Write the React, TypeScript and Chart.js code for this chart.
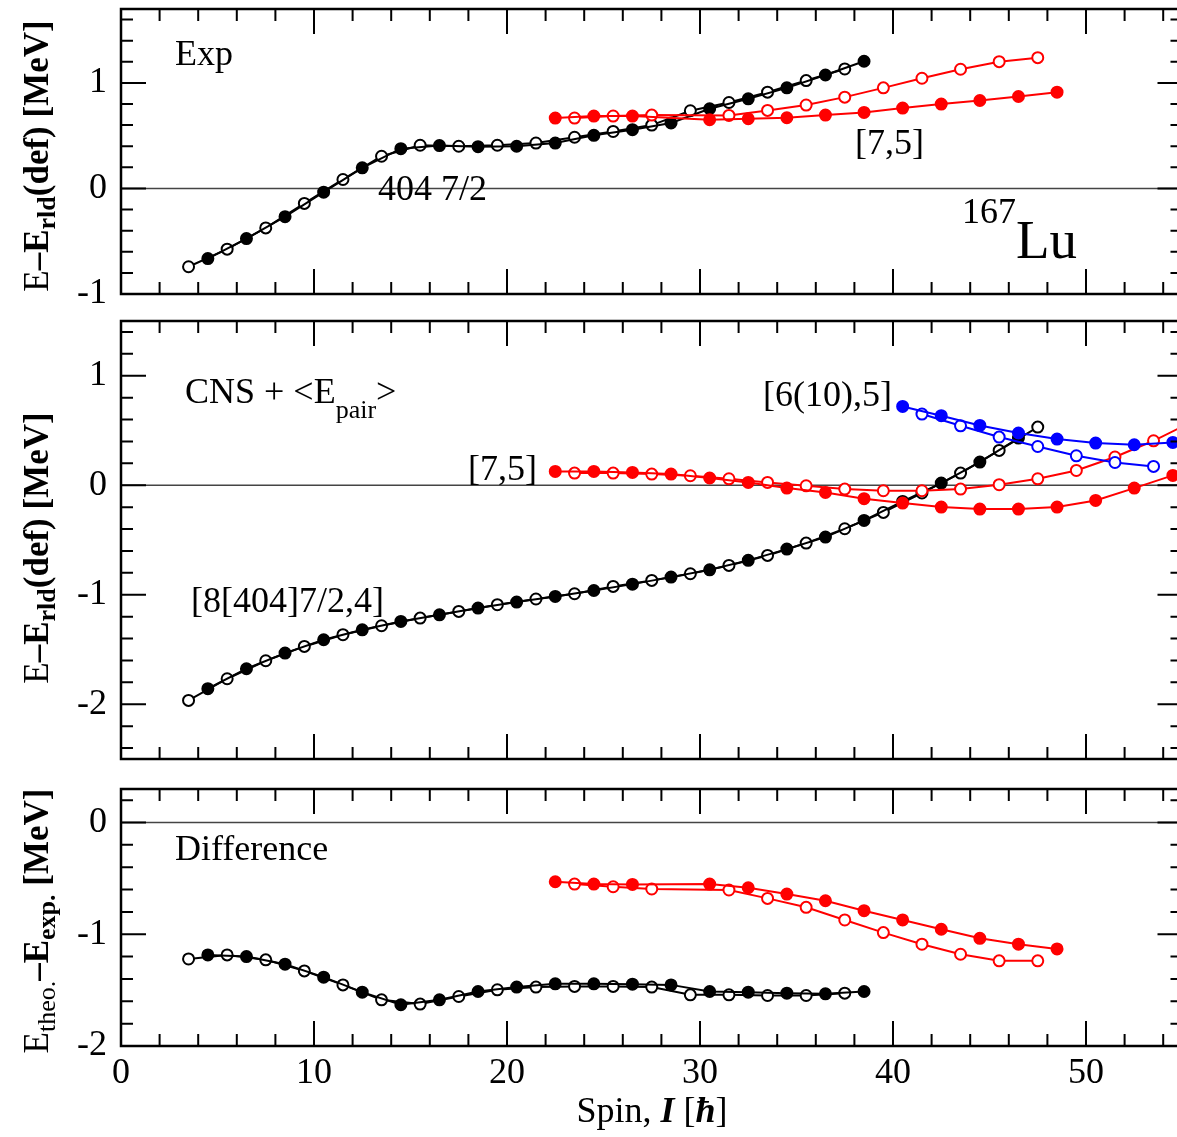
import React, { useEffect, useRef } from 'react';
import { Chart, registerables } from 'chart.js';

Chart.register(...registerables);

const FONT = '"Liberation Serif", "Times New Roman", Times, serif';

// ---------------- Panel 1: Exp ----------------
const expBlackOpenSpin = [3.5, 5.5, 7.5, 9.5, 11.5, 13.5, 15.5, 17.5, 19.5, 21.5, 23.5, 25.5, 27.5, 29.5, 31.5, 33.5, 35.5, 37.5];
const expBlackOpenE = [-0.742, -0.575, -0.374, -0.142, 0.085, 0.305, 0.409, 0.4, 0.409, 0.43, 0.485, 0.54, 0.6, 0.736, 0.814, 0.912, 1.022, 1.132];
const expBlackFilledSpin = [4.5, 6.5, 8.5, 10.5, 12.5, 14.5, 16.5, 18.5, 20.5, 22.5, 24.5, 26.5, 28.5, 30.5, 32.5, 34.5, 36.5, 38.5];
const expBlackFilledE = [-0.664, -0.475, -0.267, -0.035, 0.195, 0.377, 0.406, 0.396, 0.4, 0.43, 0.503, 0.557, 0.62, 0.755, 0.849, 0.953, 1.075, 1.205];
const expRedFilledSpin = [22.5, 24.5, 26.5, 30.5, 32.5, 34.5, 36.5, 38.5, 40.5, 42.5, 44.5, 46.5, 48.5];
const expRedFilledE = [0.667, 0.686, 0.686, 0.651, 0.66, 0.67, 0.695, 0.72, 0.761, 0.799, 0.833, 0.871, 0.912];
const expRedOpenSpin = [23.5, 25.5, 27.5, 31.5, 33.5, 35.5, 37.5, 39.5, 41.5, 43.5, 45.5, 47.5];
const expRedOpenE = [0.667, 0.686, 0.695, 0.692, 0.739, 0.79, 0.865, 0.953, 1.044, 1.129, 1.201, 1.239];

// ---------------- Panel 2: CNS + <Epair> ----------------
const cnsBlackOpenSpin = [3.5, 5.5, 7.5, 9.5, 11.5, 13.5, 15.5, 17.5, 19.5, 21.5, 23.5, 25.5, 27.5, 29.5, 31.5, 33.5, 35.5, 37.5, 39.5, 41.5, 43.5, 45.5, 47.5];
const cnsBlackOpenE = [-1.965, -1.767, -1.603, -1.472, -1.365, -1.283, -1.213, -1.152, -1.091, -1.039, -0.991, -0.924, -0.869, -0.808, -0.732, -0.641, -0.528, -0.397, -0.248, -0.071, 0.111, 0.318, 0.531];
const cnsBlackFilledSpin = [4.5, 6.5, 8.5, 10.5, 12.5, 14.5, 16.5, 18.5, 20.5, 22.5, 24.5, 26.5, 28.5, 30.5, 32.5, 34.5, 36.5, 38.5, 40.5, 42.5, 44.5, 46.5];
const cnsBlackFilledE = [-1.858, -1.676, -1.533, -1.411, -1.32, -1.244, -1.183, -1.122, -1.067, -1.015, -0.961, -0.903, -0.839, -0.772, -0.686, -0.583, -0.473, -0.321, -0.148, 0.02, 0.212, 0.431];
const cnsRedFilledSpin = [22.5, 24.5, 26.5, 28.5, 30.5, 32.5, 34.5, 36.5, 38.5, 40.5, 42.5, 44.5, 46.5, 48.5, 50.5, 52.5, 54.5];
const cnsRedFilledE = [0.126, 0.126, 0.117, 0.102, 0.066, 0.026, -0.026, -0.066, -0.123, -0.163, -0.199, -0.218, -0.218, -0.199, -0.139, -0.026, 0.09];
const cnsRedOpenSpin = [23.5, 25.5, 27.5, 29.5, 31.5, 33.5, 35.5, 37.5, 39.5, 41.5, 43.5, 45.5, 47.5, 49.5, 51.5, 53.5, 55.5];
const cnsRedOpenE = [0.111, 0.111, 0.102, 0.087, 0.059, 0.026, -0.005, -0.035, -0.05, -0.05, -0.035, 0.005, 0.059, 0.135, 0.258, 0.406, 0.58];
const cnsBlueFilledSpin = [40.5, 42.5, 44.5, 46.5, 48.5, 50.5, 52.5, 54.5];
const cnsBlueFilledE = [0.72, 0.635, 0.546, 0.477, 0.422, 0.385, 0.37, 0.391];
const cnsBlueOpenSpin = [41.5, 43.5, 45.5, 47.5, 49.5, 51.5, 53.5];
const cnsBlueOpenE = [0.65, 0.543, 0.44, 0.354, 0.269, 0.208, 0.172];

// ---------------- Panel 3: Difference ----------------
const diffBlackOpenSpin = [3.5, 5.5, 7.5, 9.5, 11.5, 13.5, 15.5, 17.5, 19.5, 21.5, 23.5, 25.5, 27.5, 29.5, 31.5, 33.5, 35.5, 37.5];
const diffBlackOpenE = [-1.221, -1.185, -1.229, -1.328, -1.453, -1.587, -1.625, -1.557, -1.497, -1.473, -1.467, -1.467, -1.473, -1.542, -1.542, -1.548, -1.548, -1.527];
const diffBlackFilledSpin = [4.5, 6.5, 8.5, 10.5, 12.5, 14.5, 16.5, 18.5, 20.5, 22.5, 24.5, 26.5, 28.5, 30.5, 32.5, 34.5, 36.5, 38.5];
const diffBlackFilledE = [-1.185, -1.2, -1.268, -1.384, -1.518, -1.631, -1.587, -1.512, -1.473, -1.444, -1.444, -1.447, -1.453, -1.512, -1.518, -1.527, -1.533, -1.512];
const diffRedFilledSpin = [22.5, 24.5, 26.5, 30.5, 32.5, 34.5, 36.5, 38.5, 40.5, 42.5, 44.5, 46.5, 48.5];
const diffRedFilledE = [-0.53, -0.551, -0.554, -0.551, -0.584, -0.64, -0.7, -0.789, -0.872, -0.955, -1.036, -1.089, -1.131];
const diffRedOpenSpin = [23.5, 25.5, 27.5, 31.5, 33.5, 35.5, 37.5, 39.5, 41.5, 43.5, 45.5, 47.5];
const diffRedOpenE = [-0.551, -0.575, -0.595, -0.604, -0.679, -0.759, -0.872, -0.985, -1.089, -1.179, -1.238, -1.238];

// ---------------- axes ----------------
const X_MIN = 0;
const X_MAX = 55;
const X_TICK_LABELS = [0, 10, 20, 30, 40, 50];
const Y1_TICK_LABELS = [-1, 0, 1];
const Y2_TICK_LABELS = [-2, -1, 0, 1];
const Y3_TICK_LABELS = [-2, -1, 0];

// ---------------- layout ----------------
const OFF = 60;
const CW = 1190;
const CH = 1137 + 2 * OFF;
const PLOT_LEFT = 121;
const PLOT_RIGHT = 1185;
const XAXIS_H = 91;

const BLACK = '#000000';
const RED = '#ff0000';
const BLUE = '#0000ff';

const f = (size: number, w = '') => `${w} ${size}px ${FONT}`.trim();

type Part = { t: string; font: string; dy?: number };
type Note = { parts: Part[]; x: number; y: number; align?: 'left' | 'center' };

function richWidth(ctx: CanvasRenderingContext2D, parts: Part[]) {
  let w = 0;
  for (const p of parts) {
    ctx.font = p.font;
    w += ctx.measureText(p.t).width;
  }
  return w;
}

function drawRich(ctx: CanvasRenderingContext2D, parts: Part[], x: number, y: number, align: 'left' | 'center' = 'left') {
  let cx = align === 'center' ? x - richWidth(ctx, parts) / 2 : x;
  ctx.textAlign = 'left';
  ctx.textBaseline = 'alphabetic';
  ctx.fillStyle = '#000';
  for (const p of parts) {
    ctx.font = p.font;
    ctx.fillText(p.t, cx, y + (p.dy || 0));
    cx += ctx.measureText(p.t).width;
  }
}

function pts(sp: number[], v: number[]) {
  return sp.map((s, i) => ({ x: s, y: v[i] }));
}

function series(spins: number[], vals: number[], color: string, filled: boolean, order: number) {
  return {
    data: pts(spins, vals),
    borderColor: color,
    backgroundColor: color,
    borderWidth: 2,
    pointRadius: 5.5,
    pointHoverRadius: 5.5,
    pointBorderWidth: 2,
    pointBorderColor: color,
    pointBackgroundColor: filled ? color : '#ffffff',
    fill: false,
    tension: 0,
    order,
  };
}

type PanelDef = {
  top: number;
  bottom: number;
  yMin: number;
  yMax: number;
  yLabels: number[];
  showX: boolean;
  datasets: any[];
  title: Part[];
  titleCenter: number;
  notes: Note[];
};

const yTitleRld: Part[] = [
  { t: 'E', font: f(35) },
  { t: '\u2013E', font: f(35, 'bold') },
  { t: 'rld', font: f(26, 'bold'), dy: 7 },
  { t: '(def) [MeV]', font: f(35, 'bold') },
];

const yTitleDiff: Part[] = [
  { t: 'E', font: f(35) },
  { t: 'theo.', font: f(26), dy: 7 },
  { t: '\u2013E', font: f(35, 'bold') },
  { t: 'exp.', font: f(26, 'bold'), dy: 7 },
  { t: ' [MeV]', font: f(35, 'bold') },
];

const PANELS: PanelDef[] = [
  {
    top: 9,
    bottom: 294,
    yMin: -1,
    yMax: 1.7,
    yLabels: Y1_TICK_LABELS,
    showX: false,
    datasets: [
      series(expRedFilledSpin, expRedFilledE, RED, true, 1),
      series(expRedOpenSpin, expRedOpenE, RED, false, 1),
      series(expBlackFilledSpin, expBlackFilledE, BLACK, true, 2),
      series(expBlackOpenSpin, expBlackOpenE, BLACK, false, 2),
    ],
    title: yTitleRld,
    titleCenter: 156,
    notes: [
      { parts: [{ t: 'Exp', font: f(36) }], x: 175, y: 65 },
      { parts: [{ t: '404 7/2', font: f(36) }], x: 378, y: 200 },
      { parts: [{ t: '[7,5]', font: f(36) }], x: 855, y: 154 },
      { parts: [{ t: '167', font: f(36) }, { t: 'Lu', font: f(55), dy: 35 }], x: 962, y: 223 },
    ],
  },
  {
    top: 321,
    bottom: 759,
    yMin: -2.5,
    yMax: 1.5,
    yLabels: Y2_TICK_LABELS,
    showX: false,
    datasets: [
      series(cnsBlueFilledSpin, cnsBlueFilledE, BLUE, true, 0),
      series(cnsBlueOpenSpin, cnsBlueOpenE, BLUE, false, 0),
      series(cnsRedFilledSpin, cnsRedFilledE, RED, true, 1),
      series(cnsRedOpenSpin, cnsRedOpenE, RED, false, 1),
      series(cnsBlackFilledSpin, cnsBlackFilledE, BLACK, true, 2),
      series(cnsBlackOpenSpin, cnsBlackOpenE, BLACK, false, 2),
    ],
    title: yTitleRld,
    titleCenter: 548,
    notes: [
      {
        parts: [
          { t: 'CNS + <E', font: f(36) },
          { t: 'pair', font: f(26), dy: 15 },
          { t: '>', font: f(36) },
        ],
        x: 185,
        y: 403,
      },
      { parts: [{ t: '[7,5]', font: f(36) }], x: 468, y: 480 },
      { parts: [{ t: '[6(10),5]', font: f(36) }], x: 763, y: 406 },
      { parts: [{ t: '[8[404]7/2,4]', font: f(36) }], x: 191, y: 612 },
    ],
  },
  {
    top: 789,
    bottom: 1046,
    yMin: -2,
    yMax: 0.3,
    yLabels: Y3_TICK_LABELS,
    showX: true,
    datasets: [
      series(diffRedFilledSpin, diffRedFilledE, RED, true, 1),
      series(diffRedOpenSpin, diffRedOpenE, RED, false, 1),
      series(diffBlackFilledSpin, diffBlackFilledE, BLACK, true, 2),
      series(diffBlackOpenSpin, diffBlackOpenE, BLACK, false, 2),
    ],
    title: yTitleDiff,
    titleCenter: 921,
    notes: [
      { parts: [{ t: 'Difference', font: f(36) }], x: 175, y: 860 },
      {
        parts: [
          { t: 'Spin, ', font: f(36) },
          { t: 'I', font: f(36, 'italic bold') },
          { t: ' [', font: f(36) },
          { t: '\u0127', font: f(36, 'italic bold') },
          { t: ']', font: f(36) },
        ],
        x: 652,
        y: 1122,
        align: 'center',
      },
    ],
  },
];

function makePlugin(def: PanelDef) {
  return {
    id: 'panelDecor',
    beforeDatasetsDraw(chart: any) {
      const { ctx, chartArea: a, scales } = chart;
      const y0 = scales.y.getPixelForValue(0);
      ctx.save();
      ctx.strokeStyle = '#444';
      ctx.lineWidth = 1.5;
      ctx.beginPath();
      ctx.moveTo(a.left, y0);
      ctx.lineTo(a.right, y0);
      ctx.stroke();
      ctx.restore();
    },
    afterDraw(chart: any) {
      const { ctx, chartArea: a, scales } = chart;
      const xs = scales.x;
      const ys = scales.y;
      const MAJ = 25;
      const MIN = 12;
      ctx.save();
      ctx.strokeStyle = '#000';
      ctx.lineWidth = 2;
      ctx.beginPath();
      for (let i = 0; i * 2 <= X_MAX; i++) {
        const v = i * 2;
        const px = xs.getPixelForValue(v);
        const len = v % 10 === 0 ? MAJ : MIN;
        ctx.moveTo(px, a.bottom);
        ctx.lineTo(px, a.bottom - len);
        ctx.moveTo(px, a.top);
        ctx.lineTo(px, a.top + len);
      }
      const k0 = Math.ceil(def.yMin / 0.2 - 1e-6);
      const k1 = Math.floor(def.yMax / 0.2 + 1e-6);
      for (let k = k0; k <= k1; k++) {
        const v = k * 0.2;
        const py = ys.getPixelForValue(v);
        const len = k % 5 === 0 ? MAJ : MIN;
        ctx.moveTo(a.left, py);
        ctx.lineTo(a.left + len, py);
        ctx.moveTo(a.right, py);
        ctx.lineTo(a.right - len, py);
      }
      ctx.stroke();
      ctx.lineWidth = 2.5;
      ctx.strokeRect(a.left, a.top, a.right - a.left, a.bottom - a.top);

      ctx.save();
      ctx.translate(48, def.titleCenter + OFF);
      ctx.rotate(-Math.PI / 2);
      drawRich(ctx, def.title, 0, 0, 'center');
      ctx.restore();

      for (const n of def.notes) {
        drawRich(ctx, n.parts, n.x, n.y + OFF, n.align || 'left');
      }
      ctx.restore();
    },
  };
}

function buildConfig(def: PanelDef): any {
  return {
    type: 'line',
    data: { datasets: def.datasets },
    options: {
      responsive: false,
      maintainAspectRatio: false,
      animation: false,
      devicePixelRatio: 1,
      events: [],
      layout: {
        padding: {
          left: 0,
          right: CW - PLOT_RIGHT,
          top: def.top + OFF,
          bottom: def.showX ? CH - (1137 + OFF) : CH - (def.bottom + OFF),
        },
      },
      plugins: {
        legend: { display: false },
        tooltip: { enabled: false },
      },
      scales: {
        x: {
          type: 'linear',
          min: X_MIN,
          max: X_MAX,
          display: def.showX,
          afterBuildTicks: (s: any) => {
            s.ticks = X_TICK_LABELS.map((v) => ({ value: v }));
          },
          afterFit: (s: any) => {
            s.height = def.showX ? XAXIS_H : 0;
          },
          grid: { display: false, drawTicks: false },
          border: { display: false },
          ticks: {
            font: { family: FONT, size: 36 },
            color: '#000',
            padding: 6,
            maxRotation: 0,
            autoSkip: false,
            callback: (v: any) => String(v),
          },
        },
        y: {
          type: 'linear',
          min: def.yMin,
          max: def.yMax,
          position: 'left',
          afterBuildTicks: (s: any) => {
            s.ticks = def.yLabels.map((v) => ({ value: v }));
          },
          afterFit: (s: any) => {
            s.width = PLOT_LEFT;
          },
          grid: { display: false, drawTicks: false },
          border: { display: false },
          ticks: {
            font: { family: FONT, size: 36 },
            color: '#000',
            padding: 14,
            autoSkip: false,
            callback: (v: any) => String(v),
          },
        },
      },
    },
    plugins: [makePlugin(def)],
  };
}

export default function App() {
  const r0 = useRef<HTMLCanvasElement>(null);
  const r1 = useRef<HTMLCanvasElement>(null);
  const r2 = useRef<HTMLCanvasElement>(null);

  useEffect(() => {
    const refs = [r0, r1, r2];
    const charts: Chart[] = [];
    PANELS.forEach((def, i) => {
      const c = refs[i].current;
      if (c) charts.push(new Chart(c, buildConfig(def)));
    });
    return () => {
      charts.forEach((ch) => ch.destroy());
    };
  }, []);

  const canvasStyle: React.CSSProperties = {
    position: 'absolute',
    left: 0,
    top: -OFF,
    width: CW,
    height: CH,
  };

  return (
    <div
      style={{
        position: 'fixed',
        left: 0,
        top: 0,
        width: 1177,
        height: 1137,
        overflow: 'hidden',
        background: '#ffffff',
      }}
    >
      <canvas ref={r0} width={CW} height={CH} style={canvasStyle} />
      <canvas ref={r1} width={CW} height={CH} style={canvasStyle} />
      <canvas ref={r2} width={CW} height={CH} style={canvasStyle} />
    </div>
  );
}
